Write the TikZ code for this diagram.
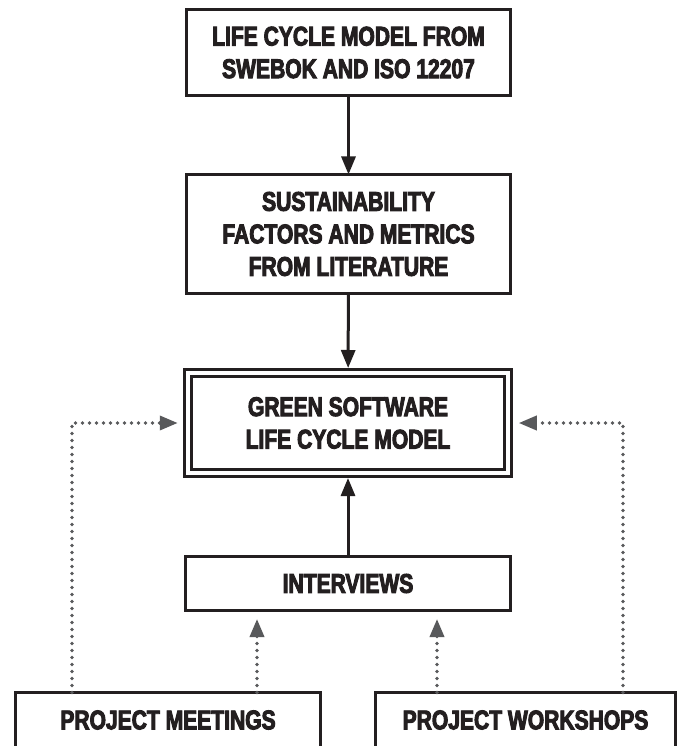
\documentclass[tikz,border=0pt]{standalone}
\usepackage{fontspec}
\setmainfont{Liberation Sans}[FakeStretch=0.78, BoldFeatures={FakeBold=3.5}]
\usetikzlibrary{arrows.meta}
\definecolor{inkblack}{HTML}{231F20}
\definecolor{dotgray}{HTML}{58595B}
\begin{document}
\begin{tikzpicture}[x=1pt,y=-1pt,
  box/.style={draw=inkblack, line width=3pt, text=inkblack, align=center, inner sep=0pt, outer sep=0pt,
    font=\bfseries\fontsize{27}{32.5}\selectfont},
  mainarrow/.style={draw=inkblack, line width=3pt, -{Triangle[length=18pt,width=14pt]}},
  dotarrow/.style={draw=dotgray, line width=3.6pt, line cap=round, dash pattern=on 0pt off 7pt,
    -{Triangle[length=18pt,width=14pt,fill=dotgray]}}]
\useasboundingbox[fill=white] (0,0) rectangle (684,746);
\node[box, minimum width=324pt, minimum height=86pt] (lcm) at (348.5,52.5) {LIFE CYCLE MODEL FROM\\SWEBOK AND ISO 12207};
\node[box, minimum width=324pt, minimum height=119pt] (sustain) at (348.5,234) {SUSTAINABILITY\\FACTORS AND METRICS\\FROM LITERATURE};
\node[box, double=white, double distance=4pt, minimum width=320.5pt, minimum height=100pt] (green) at (348,423) {GREEN SOFTWARE\\LIFE CYCLE MODEL};
\node[box, minimum width=325pt, minimum height=54pt] (interviews) at (348,583.5) {INTERVIEWS};
\node[box, minimum width=305pt, minimum height=55pt] (meetings) at (168,720) {PROJECT MEETINGS};
\node[box, minimum width=300pt, minimum height=55pt] (workshops) at (525.5,720) {PROJECT WORKSHOPS};
\draw[mainarrow] (lcm) -- (sustain);
\draw[mainarrow, shorten >=5pt] (sustain) -- (green);
\draw[mainarrow, shorten >=5pt] (interviews) -- (green);
\draw[dotarrow, shorten >=10pt] ([xshift=-96pt]meetings.north) |- (green.west);
\draw[dotarrow, shorten >=10.5pt] ([xshift=97.5pt]workshops.north) |- (green.east);
\draw[dotarrow, shorten >=8.5pt] ([xshift=89pt]meetings.north) -- ([xshift=89pt]meetings.north |- interviews.south);
\draw[dotarrow, shorten >=8.5pt] ([xshift=-88.5pt]workshops.north) -- ([xshift=-88.5pt]workshops.north |- interviews.south);
\end{tikzpicture}
\end{document}
